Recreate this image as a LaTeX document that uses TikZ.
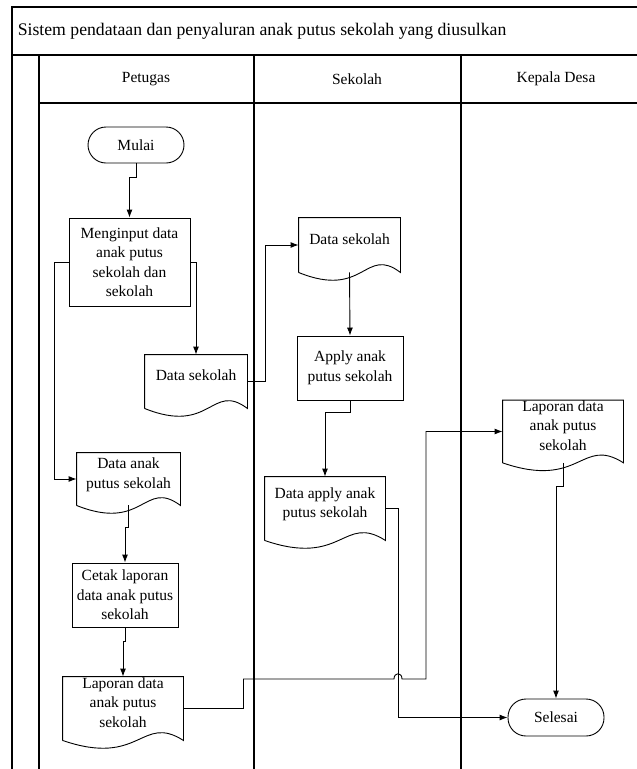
\documentclass[tikz,border=0pt]{standalone}
\usepackage{fontspec}
\setmainfont{Liberation Serif}
\usetikzlibrary{calc,arrows.meta}

\tikzset{
    teks/.style={font=\fontsize{15.5}{19.5}\selectfont, align=center, inner sep=0pt},
    proses/.style={teks, draw, rectangle},
    dokumen/.style={teks, rectangle, text depth=12pt},
    terminal/.style={teks, draw, rounded corners=18pt},
    panah/.style={-{Latex[length=8pt,width=6pt]}},
}

% kertas dengan sisi bawah bergelombang
\newcommand{\kertas}[1]{%
    \draw (#1.south west) -- (#1.north west) -- (#1.north east) -- (#1.south east)
        .. controls ($(#1.south west)!0.65!(#1.south east)+(0,-27)$)
        and ($(#1.south west)!0.65!(#1.south east)+(0,27)$) .. (#1.south west);}

\begin{document}
\begin{tikzpicture}[x=1pt, y=-1pt, line width=0.9pt]

\clip (0,0) rectangle (637,769);

% swimlane
\begin{scope}[line width=1.2pt]
    \draw (12,780) -- (12,7) -- (650,7);
    \draw (12,55) -- (650,55);
    \draw (39,780) -- (39,55);
    \draw (39,103) -- (650,103);
    \draw (254,55) -- (254,780); % Petugas | Sekolah
    \draw (461,55) -- (461,780); % Sekolah | Kepala Desa
\end{scope}

    \node[font=\fontsize{17.7}{21}\selectfont, anchor=west] (judul) at (14,31)
        {Sistem pendataan dan penyaluran anak putus sekolah yang diusulkan};
    \node[teks] (lane1) at (146,79) {Petugas};
    \node[teks] (lane2) at (357,79) {Sekolah};
    \node[teks] (lane3) at (556,79) {Kepala Desa};

% Petugas
    \node[terminal, minimum width=96pt, minimum height=36pt] (mulai) at (136,145) {Mulai};
    \node[proses, minimum width=121pt, minimum height=88pt] (input) at (129.5,262)
        {Menginput data\\anak putus\\sekolah dan\\sekolah};
    \node[dokumen, minimum width=102pt, minimum height=53pt] (dsP) at (196,381.5) {Data sekolah};
    \node[dokumen, minimum width=103pt, minimum height=52pt] (dAnak) at (128.5,479)
        {Data anak\\putus sekolah};
    \node[proses, minimum width=106pt, minimum height=64pt] (cetak) at (125,595)
        {Cetak laporan\\data anak putus\\sekolah};
    \node[dokumen, minimum width=120pt, minimum height=63pt] (lapP) at (123,708.5)
        {Laporan data\\anak putus\\sekolah};

% Sekolah
    \node[dokumen, minimum width=101pt, minimum height=54pt] (dsS) at (349.5,245) {Data sekolah};
    \node[proses, minimum width=106pt, minimum height=64pt] (apply) at (350,368)
        {Apply anak\\putus sekolah};
    \node[dokumen, minimum width=120pt, minimum height=63pt] (dApply) at (325,508.5)
        {Data apply anak\\putus sekolah};

% Kepala Desa
    \node[dokumen, minimum width=120pt, minimum height=61pt] (lapK) at (563,431.5)
        {Laporan data\\anak putus\\sekolah};
    \node[terminal, minimum width=96pt, minimum height=37pt] (selesai) at (556,717.5) {Selesai};

    \kertas{dsP}
    \kertas{dAnak}
    \kertas{lapP}
    \kertas{dsS}
    \kertas{dApply}
    \kertas{lapK}

% alur
    \draw[panah] (mulai.south) -- ++(0,14) -| (input.north);
    \draw[panah] (input.east) -| (dsP.north);
    \draw[panah] (input.west) -- ++(-14,0) |- (dAnak.west);
    \draw[panah] (dsP.east) -- ++(18,0) |- (dsS.west);
    \draw[panah] (dsS.south) -- (apply.north);
    \draw[panah] (apply.south) -- ++(0,12) -| (dApply.north);
    \draw[panah] (dAnak.south) -- ++(0,22) -| (cetak.north);
    \draw[panah] (cetak.south) -- ++(0,14) -| (lapP.north);
    \draw[panah] (dApply.east) -- ++(13,0) |- (selesai.west);
    \draw[panah] (lapP.east) -- ++(60,0) |- (394,679)
        .. controls (394,672) and (402,672) .. (402,679) -- (426,679) |- (lapK.west);
    \draw[panah] (lapK.south) -- ++(0,24) -| (selesai.north);

\end{tikzpicture}
\end{document}
